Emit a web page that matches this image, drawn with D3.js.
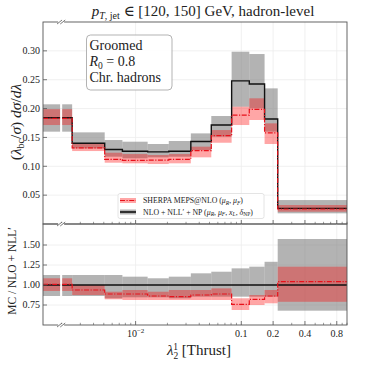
<!DOCTYPE html>
<html><head><meta charset="utf-8">
<script src="https://cdn.jsdelivr.net/npm/d3@7"></script>
<style>body{margin:0;background:#fff}svg{display:block}text{font-family:"Liberation Serif","DejaVu Serif",serif;fill:#222}</style>
</head><body><svg id="c" width="366" height="366"></svg>
<script>
// ---- data ----
const binLo = [0.00133, 0.00202, 0.00251, 0.0051, 0.0075, 0.013, 0.0206, 0.0333, 0.052, 0.081, 0.119, 0.166, 0.221];
const binHi = [0.00193, 0.00251, 0.0051, 0.0075, 0.013, 0.0206, 0.0333, 0.052, 0.081, 0.119, 0.166, 0.221, 1.0];
// NLO + NLL' + NP (top panel)
const nllMid = [0.184, 0.184, 0.140, 0.129, 0.126, 0.125, 0.126, 0.143, 0.1715, 0.248, 0.2425, 0.182, 0.027];
const nllLo  = [0.160, 0.160, 0.131, 0.1166, 0.1138, 0.1155, 0.1166, 0.128, 0.1512, 0.2032, 0.2004, 0.160, 0.0185];
const nllHi  = [0.2074, 0.2074, 0.1588, 0.1455, 0.1426, 0.1386, 0.1438, 0.157, 0.1871, 0.2985, 0.2945, 0.235, 0.0415];
// SHERPA MEPS@NLO (top panel)
const mcMid = [0.183, 0.183, 0.132, 0.112, 0.1103, 0.1108, 0.112, 0.127, 0.153, 0.1888, 0.1987, 0.158, 0.026];
const mcLo  = [0.1715, 0.1715, 0.1264, 0.1062, 0.1051, 0.1039, 0.1051, 0.1155, 0.1408, 0.1715, 0.1802, 0.1386, 0.0213];
const mcHi  = [0.199, 0.199, 0.1398, 0.1235, 0.1212, 0.1195, 0.1212, 0.134, 0.1628, 0.2032, 0.2178, 0.1744, 0.0329];
// ratio panel
const rNllMid = [1, 1, 1, 1, 1, 1, 1, 1, 1, 1, 1, 1, 1];
const rNllLo = [0.8625, 0.8625, 0.8625, 0.834, 0.846, 0.846, 0.834, 0.854, 0.854, 0.854, 0.854, 0.854, 0.679];
const rNllHi = [1.125, 1.125, 1.125, 1.125, 1.104, 1.084, 1.104, 1.146, 1.166, 1.208, 1.229, 1.29, 1.575];
const rMcMid = [1.009, 1.009, 0.9375, 0.8875, 0.8875, 0.8625, 0.854, 0.875, 0.8875, 0.758, 0.821, 0.8625, 1.042];
const rMcLo  = [0.925, 0.925, 0.875, 0.821, 0.8125, 0.8125, 0.8125, 0.8125, 0.8125, 0.6875, 0.75, 0.771, 0.79];
const rMcHi  = [1.084, 1.084, 1.0, 0.916, 0.9375, 0.916, 0.9375, 0.9375, 0.958, 0.834, 0.875, 0.9375, 1.229];
// ticks
const yTicksTop = [0.05, 0.10, 0.15, 0.20, 0.25, 0.30];
const yTicksBot = [0.75, 1.00, 1.25, 1.50];
const xTicks = [0.01, 0.1, 0.2, 0.4, 0.8];
const xTickLabels = ["10^-2", "0.1", "0.2", "0.4", "0.8"];

// ---- layout ----
const L = 43, R = 347, T1 = 22, B1 = 224, T2 = 224, B2 = 325;
const svg = d3.select("#c");
const x = d3.scaleLog().domain([0.00133, 1]).range([L, R]);
const y1 = d3.scaleLinear().domain([0, 0.35]).range([B1, T1]);
const y2 = d3.scaleLinear().domain([0.5, 1.7625]).range([B2, T2]);
const GREY = "#808080", RED = "#ff0000", LINERED = "#e8101a";

const defs = svg.append("defs");
defs.append("clipPath").attr("id", "cp1").append("rect").attr("x", L).attr("y", T1).attr("width", R - L).attr("height", B1 - T1);
defs.append("clipPath").attr("id", "cp2").append("rect").attr("x", L).attr("y", T2).attr("width", R - L).attr("height", B2 - T2);

function minorTicks() {
  const out = [];
  for (let e = -3; e <= 0; e++) for (let m = 1; m <= 9; m++) {
    const v = m * Math.pow(10, e);
    if (v >= 0.00133 && v <= 1 && !xTicks.some(t => Math.abs(t - v) < 1e-9)) out.push(v);
  }
  return out;
}

function stepPath(vals, ys) {
  let d = "";
  vals.forEach((v, i) => {
    const xa = x(binLo[i]), xb = x(binHi[i]), yy = ys(v);
    if (i > 0 && Math.abs(binLo[i] - binHi[i - 1]) < 1e-12) d += `L${xa},${yy}`;
    else d += `M${xa},${yy}`;
    d += `L${xb},${yy}`;
  });
  return d;
}

function panel(top, bot, ys, yTicks, fmt, cp, data) {
  const g = svg.append("g");
  g.selectAll(".gy").data(yTicks).enter().append("line")
    .attr("x1", L).attr("x2", R).attr("y1", d => ys(d)).attr("y2", d => ys(d))
    .attr("stroke", "#ececec").attr("stroke-width", 0.8);
  g.selectAll(".gx").data(xTicks).enter().append("line")
    .attr("x1", d => x(d)).attr("x2", d => x(d)).attr("y1", top).attr("y2", bot)
    .attr("stroke", "#ececec").attr("stroke-width", 0.8);
  const pg = g.append("g").attr("clip-path", `url(#${cp})`);
  const idx = d3.range(binLo.length);
  pg.selectAll(".bg").data(idx).enter().append("rect")
    .attr("x", i => x(binLo[i])).attr("width", i => x(binHi[i]) - x(binLo[i]))
    .attr("y", i => ys(data.nHi[i])).attr("height", i => ys(data.nLo[i]) - ys(data.nHi[i]))
    .attr("fill", GREY).attr("fill-opacity", 0.6);
  pg.selectAll(".br").data(idx).enter().append("rect")
    .attr("x", i => x(binLo[i])).attr("width", i => x(binHi[i]) - x(binLo[i]))
    .attr("y", i => ys(data.mHi[i])).attr("height", i => ys(data.mLo[i]) - ys(data.mHi[i]))
    .attr("fill", RED).attr("fill-opacity", 0.35);
  pg.append("path").attr("d", stepPath(data.nMid, ys)).attr("fill", "none")
    .attr("stroke", "#111").attr("stroke-width", 1.4);
  pg.append("path").attr("d", stepPath(data.mMid, ys)).attr("fill", "none")
    .attr("stroke", LINERED).attr("stroke-width", 1.2).attr("stroke-dasharray", "5,1.5,1.2,1.5");
  g.append("rect").attr("x", L).attr("y", top).attr("width", R - L).attr("height", bot - top)
    .attr("fill", "none").attr("stroke", "#555").attr("stroke-width", 0.9);
  g.selectAll(".yt").data(yTicks).enter().append("line")
    .attr("x1", L).attr("x2", L + 4).attr("y1", d => ys(d)).attr("y2", d => ys(d))
    .attr("stroke", "#555").attr("stroke-width", 0.8);
  g.selectAll(".yl").data(yTicks).enter().append("text")
    .attr("x", L - 3).attr("y", d => ys(d) + 3.3).attr("text-anchor", "end")
    .attr("font-size", 10).attr("fill", "#333").text(fmt);
  g.selectAll(".xt").data(xTicks).enter().append("line")
    .attr("x1", d => x(d)).attr("x2", d => x(d)).attr("y1", bot).attr("y2", bot - 4)
    .attr("stroke", "#555").attr("stroke-width", 0.8);
  g.selectAll(".xm").data(minorTicks()).enter().append("line")
    .attr("x1", d => x(d)).attr("x2", d => x(d)).attr("y1", bot).attr("y2", bot - 2.2)
    .attr("stroke", "#555").attr("stroke-width", 0.6);
  return g;
}

panel(T1, B1, y1, yTicksTop, d => d.toFixed(2), "cp1",
  { nMid: nllMid, nLo: nllLo, nHi: nllHi, mMid: mcMid, mLo: mcLo, mHi: mcHi });
panel(T2, B2, y2, yTicksBot, d => d.toFixed(2), "cp2",
  { nMid: rNllMid, nLo: rNllLo, nHi: rNllHi, mMid: rMcMid, mLo: rMcLo, mHi: rMcHi });

// axis break marks
const bx = (x(binHi[0]) + x(binLo[1])) / 2;
[T1, B1, B2].forEach(yy => {
  svg.append("rect").attr("x", bx - 3).attr("y", yy - 1).attr("width", 6).attr("height", 2).attr("fill", "#fff");
  [-1.6, 1.6].forEach(o => svg.append("line")
    .attr("x1", bx + o - 2.5).attr("y1", yy + 2).attr("x2", bx + o + 2.5).attr("y2", yy - 2)
    .attr("stroke", "#555").attr("stroke-width", 0.8));
});

// x tick labels
xTicks.forEach((t, i) => {
  const lab = xTickLabels[i];
  const tx = svg.append("text").attr("x", x(t)).attr("y", B2 + 12).attr("text-anchor", "middle").attr("font-size", 10).attr("fill", "#333");
  if (lab.startsWith("10^")) {
    tx.append("tspan").text("10");
    tx.append("tspan").attr("dy", -4).attr("font-size", 7).text("−2");
  } else tx.text(lab);
});

// title
const ti = svg.append("text").attr("x", 203).attr("y", 16).attr("text-anchor", "middle").attr("font-size", 15);
ti.append("tspan").attr("font-style", "italic").text("p");
ti.append("tspan").attr("dy", 3).attr("font-size", 10).attr("font-style", "italic").text("T");
ti.append("tspan").attr("font-size", 10).text(", jet");
ti.append("tspan").attr("dy", -3).text(" ∈ [120, 150] GeV, hadron-level");

// y labels
const yl = svg.append("text").attr("transform", "translate(21,122) rotate(-90)").attr("text-anchor", "middle").attr("font-size", 15.5);
yl.append("tspan").text("(");
yl.append("tspan").attr("font-style", "italic").text("λ");
yl.append("tspan").attr("dy", 3).attr("font-size", 10).text("bc");
yl.append("tspan").attr("dy", -3).text("/");
yl.append("tspan").attr("font-style", "italic").text("σ");
yl.append("tspan").text(") ");
yl.append("tspan").attr("font-style", "italic").text("dσ");
yl.append("tspan").text("/");
yl.append("tspan").attr("font-style", "italic").text("dλ");

svg.append("text").attr("transform", "translate(16,271) rotate(-90)").attr("text-anchor", "middle")
  .attr("font-size", 11.5).text("MC / NLO + NLL′");

// x label
const xl = svg.append("text").attr("x", 199).attr("y", 355).attr("text-anchor", "middle").attr("font-size", 15);
xl.append("tspan").attr("font-style", "italic").text("λ");
xl.append("tspan").attr("dy", 3.5).attr("font-size", 9.5).text("2");
xl.append("tspan").attr("dx", -5).attr("dy", -9).attr("font-size", 9.5).text("1");
xl.append("tspan").attr("dy", 5.5).text("  [Thrust]");

// text box
svg.append("rect").attr("x", 86.5).attr("y", 35).attr("width", 85.5).attr("height", 55)
  .attr("rx", 4).attr("fill", "#fff").attr("fill-opacity", 0.85).attr("stroke", "#aaa").attr("stroke-width", 0.9);
svg.append("text").attr("x", 89.5).attr("y", 50).attr("font-size", 14).text("Groomed");
const r0 = svg.append("text").attr("x", 89.5).attr("y", 66).attr("font-size", 14);
r0.append("tspan").attr("font-style", "italic").text("R");
r0.append("tspan").attr("dy", 3).attr("font-size", 9.5).text("0");
r0.append("tspan").attr("dy", -3).text(" = 0.8");
svg.append("text").attr("x", 89.5).attr("y", 82).attr("font-size", 14).text("Chr. hadrons");

// legend
svg.append("rect").attr("x", 118).attr("y", 193.5).attr("width", 146).attr("height", 25)
  .attr("rx", 2).attr("fill", "#fff").attr("fill-opacity", 0.85).attr("stroke", "#ddd").attr("stroke-width", 0.8);
svg.append("rect").attr("x", 120).attr("y", 198).attr("width", 16).attr("height", 5).attr("fill", RED).attr("fill-opacity", 0.35);
svg.append("line").attr("x1", 120).attr("x2", 136).attr("y1", 200.5).attr("y2", 200.5)
  .attr("stroke", LINERED).attr("stroke-width", 1.2).attr("stroke-dasharray", "5,1.5,1.2,1.5");
svg.append("rect").attr("x", 120).attr("y", 209.5).attr("width", 16).attr("height", 5).attr("fill", GREY).attr("fill-opacity", 0.6);
svg.append("line").attr("x1", 120).attr("x2", 136).attr("y1", 212).attr("y2", 212).attr("stroke", "#111").attr("stroke-width", 1.6);
const l1 = svg.append("text").attr("x", 143).attr("y", 203.3).attr("font-size", 7.8);
l1.append("tspan").text("SHERPA MEPS@NLO (");
l1.append("tspan").attr("font-style", "italic").text("μ");
l1.append("tspan").attr("dy", 1.5).attr("font-size", 5.5).attr("font-style", "italic").text("R");
l1.append("tspan").attr("dy", -1.5).text(", ");
l1.append("tspan").attr("font-style", "italic").text("μ");
l1.append("tspan").attr("dy", 1.5).attr("font-size", 5.5).attr("font-style", "italic").text("F");
l1.append("tspan").attr("dy", -1.5).text(")");
const l2 = svg.append("text").attr("x", 143).attr("y", 214.8).attr("font-size", 7.8);
l2.append("tspan").text("NLO + NLL′ + NP (");
[["μ", "R"], ["μ", "F"], ["x", "L"], ["δ", "NP"]].forEach((p, k) => {
  l2.append("tspan").attr("font-style", "italic").text(p[0]);
  l2.append("tspan").attr("dy", 1.5).attr("font-size", 5.5).attr("font-style", p[1] === "NP" ? "normal" : "italic").text(p[1]);
  l2.append("tspan").attr("dy", -1.5).text(k < 3 ? ", " : ")");
});
</script></body></html>
